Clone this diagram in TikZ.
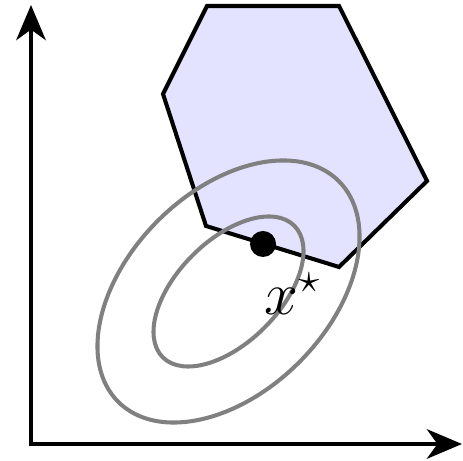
\documentclass[tikz,border=0pt]{standalone}
\usepackage{amsmath}
\usepackage{tikz}
\usetikzlibrary{arrows.meta}

\begin{document}
\begin{tikzpicture}[>={Stealth[length=10pt,width=8.4pt,inset=3pt]},
  axis/.style={line width=1.15pt,black},
  feasible/.style={line width=1.15pt,draw=black,fill=blue!11,line join=miter},
  level/.style={line width=1.15pt,draw=black!50}]
\useasboundingbox (-0.31,-0.16) rectangle (4.32,4.44);
% axes
\coordinate (o) at (0,0);
\coordinate (ytip) at (0,4.39);
\coordinate (xtip) at (4.31,0);
\draw[axis,<->] (ytip)--(o)--(xtip);
% feasible set
\coordinate (p0) at (1.76,4.38);
\coordinate (p1) at (3.08,4.38);
\coordinate (p2) at (3.96,2.63);
\coordinate (p3) at (3.08,1.77);
\coordinate (p4) at (1.75,2.18);
\coordinate (p5) at (1.32,3.50);
\draw[feasible] (p0)--(p1)--(p2)--(p3)--(p4)--(p5)--cycle;
% level sets
\coordinate (c) at (1.975,1.525);
\draw[level,rotate around={45:(c)}] (c) ellipse [x radius=1.56cm,y radius=1.0cm];
\draw[level,rotate around={45:(c)}] (c) ellipse [x radius=0.93cm,y radius=0.51cm];
% optimum
\node[circle,fill=black,minimum size=0.26cm,inner sep=0pt] (opt) at (2.32,2.00) {};
\node[anchor=base west,inner sep=0pt,font=\LARGE] (lbl) at (2.33,1.29) {$x^\star$};
\end{tikzpicture}
\end{document}
